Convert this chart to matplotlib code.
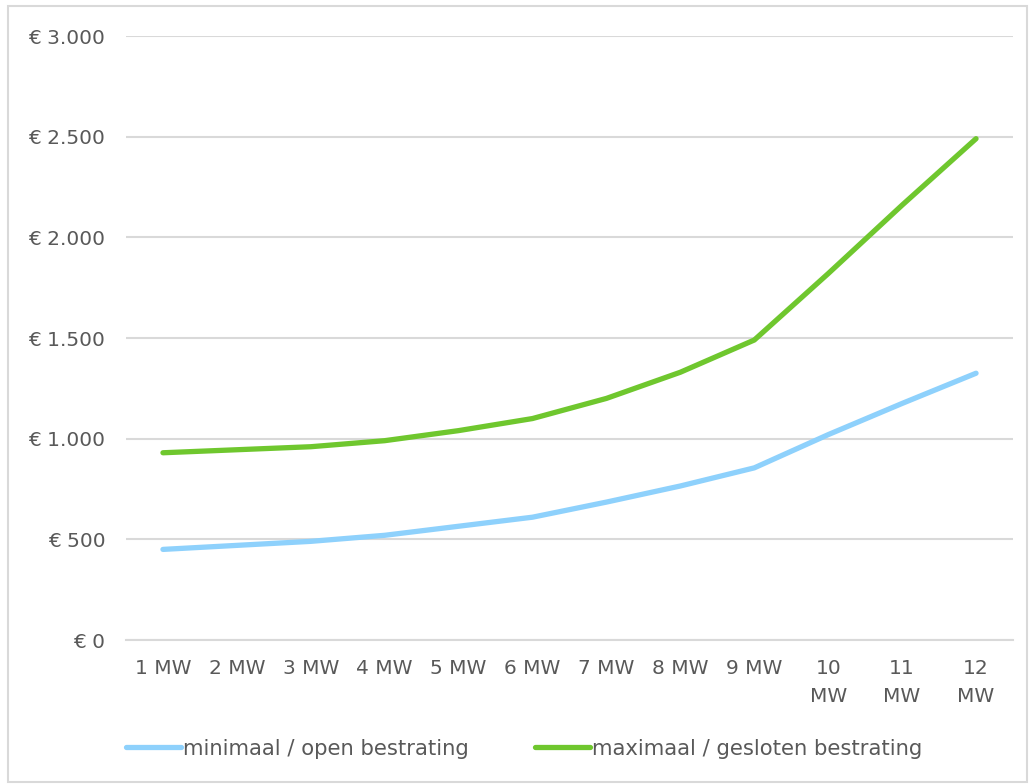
import matplotlib
matplotlib.use("Agg")
import matplotlib.pyplot as plt
from matplotlib.patches import Rectangle

categories = ["1 MW", "2 MW", "3 MW", "4 MW", "5 MW", "6 MW", "7 MW", "8 MW", "9 MW",
              "10\nMW", "11\nMW", "12\nMW"]
minimaal = [450, 470, 490, 520, 565, 610, 685, 765, 855, 1020, 1175, 1325]
maximaal = [930, 945, 960, 990, 1040, 1100, 1200, 1330, 1490, 1820, 2160, 2490]
yticks = [0, 500, 1000, 1500, 2000, 2500, 3000]
ytick_labels = ["€ 0", "€ 500", "€ 1.000", "€ 1.500", "€ 2.000", "€ 2.500", "€ 3.000"]
series_names = ["minimaal / open bestrating", "maximaal / gesloten bestrating"]

plt.rcParams['font.family'] = ['DejaVu Sans']
text_color = '#595959'

fig = plt.figure(figsize=(10.30, 7.84), dpi=100)
fig.patches.append(Rectangle((8/1030, 0.002), (1027-8)/1030, (784-6)/784 - 0.002,
                             transform=fig.transFigure, fill=False,
                             edgecolor='#d9d9d9', linewidth=1.5))
ax = fig.add_axes([126/1030, (784-640)/784, (1013-126)/1030, (640-36)/784])

x = list(range(len(categories)))
ax.plot(x, minimaal, color='#8ED1FC', linewidth=3.8, solid_capstyle='round',
        solid_joinstyle='round', label=series_names[0])
ax.plot(x, maximaal, color='#6FC72E', linewidth=3.8, solid_capstyle='round',
        solid_joinstyle='round', label=series_names[1])

ax.set_xlim(-0.5, len(categories) - 0.5)
ax.set_ylim(0, 3000)
ax.set_yticks(yticks)
ax.set_yticklabels(ytick_labels)
ax.set_xticks(x)
ax.set_xticklabels(categories, linespacing=1.6, va='top')
ax.grid(axis='y', color='#d9d9d9', linewidth=1.5)
ax.set_axisbelow(True)
for s in ['top', 'right', 'left']:
    ax.spines[s].set_visible(False)
ax.spines['bottom'].set_color('#d9d9d9')
ax.spines['bottom'].set_linewidth(1.5)
ax.tick_params(axis='both', length=0, labelsize=14.5, colors=text_color)
ax.tick_params(axis='y', pad=15)
ax.tick_params(axis='x', pad=14)

leg = ax.legend(loc='center left', bbox_to_anchor=(0.0, -0.18), ncol=2, frameon=False,
                fontsize=15.2, handlelength=2.6, handletextpad=0.12, columnspacing=3.1,
                borderaxespad=0, borderpad=0)
for t in leg.get_texts():
    t.set_color(text_color)

fig.savefig("out.png", dpi=100)
